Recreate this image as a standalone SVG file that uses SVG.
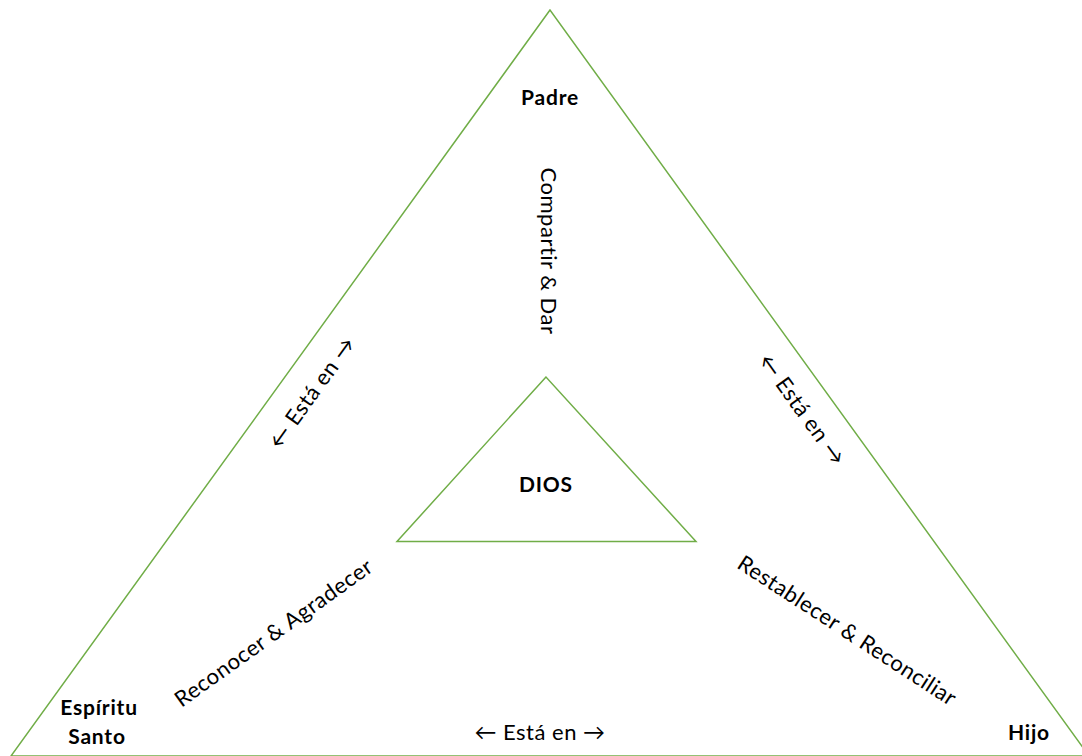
<svg xmlns="http://www.w3.org/2000/svg" width="1082" height="756" viewBox="0 0 1082 756">
<style>
.tri{fill:none;stroke:#70AD47;stroke-width:1.5}
text{font-family:Lato,"Open Sans","Liberation Sans",sans-serif;fill:#000;text-anchor:middle}
.b{font-weight:bold;font-size:21px;letter-spacing:0.8px}
.n{font-size:22px;letter-spacing:0.5px}
</style>
<rect width="1082" height="756" fill="#fff"/>
<g id="outer"><polygon class="tri" points="550,10 11,756 1089,756"/></g>
<g id="dios">
<polygon class="tri" points="546,377 397,541.5 696,541.5"/>
<text class="b" x="546" y="492">DIOS</text>
</g>
<g id="padre"><text class="b" x="550" y="105">Padre</text></g>
<g id="espiritu"><text class="b" x="99" y="715">Espíritu</text><text class="b" x="97" y="744">Santo</text></g>
<g id="hijo"><text class="b" x="1029" y="740">Hijo</text></g>
<g id="labels">
<text class="n" transform="translate(541,251) rotate(90)">Compartir &amp; Dar</text>
<text class="n" transform="translate(318,397) rotate(-54.2)">← Está en →</text>
<text class="n" transform="translate(796,414) rotate(54.2)">← Está en →</text>
<text class="n" x="540" y="740">← Está en →</text>
<text class="n" transform="translate(278,639) rotate(-35.5)">Reconocer &amp; Agradecer</text>
<text class="n" transform="translate(843,637) rotate(33)">Restablecer &amp; Reconciliar</text>
</g>
</svg>
